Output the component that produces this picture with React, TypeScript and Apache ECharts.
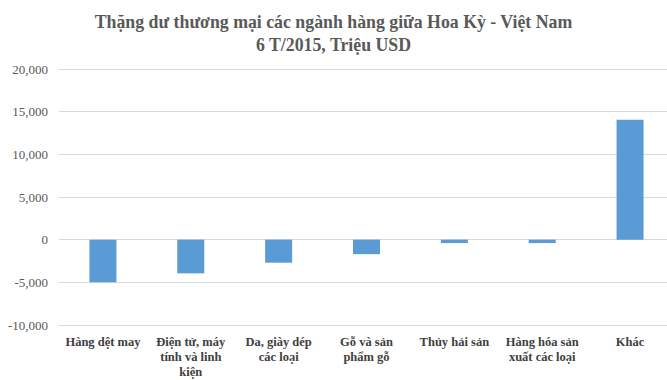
import React, { useEffect, useRef } from "react";
import * as echarts from "echarts";

const TITLE = "Thặng dư thương mại các ngành hàng giữa Hoa Kỳ - Việt Nam\n6 T/2015, Triệu USD";
const categories = [
  "Hàng dệt may",
  "Điện tử, máy\ntính và linh\nkiện",
  "Da, giày dép\ncác loại",
  "Gỗ và sản\nphẩm gỗ",
  "Thủy hải sản",
  "Hàng hóa sản\nxuất các loại",
  "Khác",
];
const values = [-5000, -3950, -2700, -1700, -400, -400, 14050];
const yMin = -10000;
const yMax = 20000;
const yInterval = 5000;

export default function App() {
  const ref = useRef<HTMLDivElement>(null);
  useEffect(() => {
    if (!ref.current) return;
    const chart = echarts.init(ref.current, null, { renderer: "svg" });
    chart.setOption({
      animation: false,
      backgroundColor: "#ffffff",
      title: {
        text: TITLE,
        left: "center",
        top: 5,
        textStyle: {
          fontFamily: "'Liberation Serif', 'Times New Roman', serif",
          fontWeight: "bold",
          fontSize: 17.8,
          lineHeight: 23,
          color: "#595959",
        },
      },
      grid: {
        left: 59,
        top: 69,
        width: 615,
        height: 256,
        containLabel: false,
        outerBoundsMode: "none",
      },
      xAxis: {
        type: "category",
        data: categories,
        position: "bottom",
        axisLine: { show: false, onZero: false },
        axisTick: { show: false },
        splitLine: { show: false },
        axisLabel: {
          interval: 0,
          margin: 9,
          fontFamily: "'Liberation Serif', 'Times New Roman', serif",
          fontWeight: "bold",
          fontSize: 12.5,
          lineHeight: 15,
          color: "#404040",
          align: "center",
        },
      },
      yAxis: {
        type: "value",
        min: yMin,
        max: yMax,
        interval: yInterval,
        axisLine: { show: false },
        axisTick: { show: false },
        splitLine: { lineStyle: { color: "#d9d9d9", width: 1 } },
        axisLabel: {
          margin: 11,
          fontFamily: "'Liberation Serif', 'Times New Roman', serif",
          fontSize: 13,
          color: "#595959",
          formatter: (v: number) => v.toLocaleString("en-US"),
        },
      },
      series: [
        {
          type: "bar",
          data: values,
          barWidth: 27,
          itemStyle: { color: "#5b9bd5" },
        },
      ],
    });
    return () => chart.dispose();
  }, []);
  return (
    <div
      ref={ref}
      style={{ position: "fixed", left: 0, top: 0, width: 667, height: 380, overflow: "hidden" }}
    />
  );
}
